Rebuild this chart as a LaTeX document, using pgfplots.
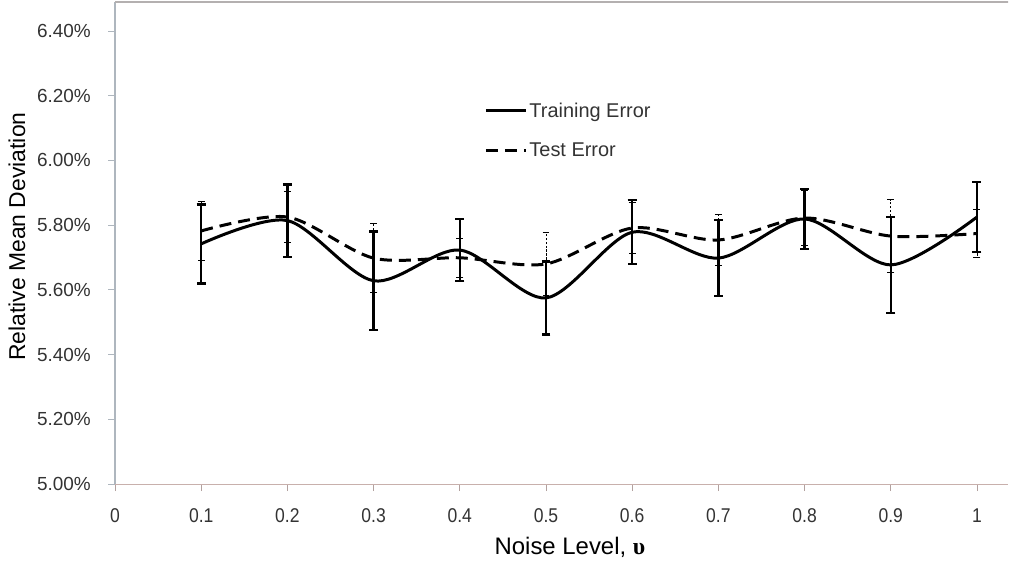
\documentclass[border=0pt]{standalone}
\usepackage{fontspec}
\setmainfont{Liberation Sans}
\newfontfamily\narrowfont[FakeStretch=0.88]{Liberation Sans}
\newfontfamily\serffont{Liberation Serif}
\usepackage{pgfplots}
\pgfplotsset{compat=1.18}
\definecolor{txt}{HTML}{333333}
\definecolor{xline}{HTML}{C8B0AC}
\definecolor{yline}{HTML}{AEB6BE}
\definecolor{topline}{HTML}{B4B0B0}
\begin{document}
\begin{tikzpicture}
\useasboundingbox (-115bp,-79bp) rectangle (896bp,484bp);
\begin{axis}[
  at={(0,0)}, anchor=south west,
  scale only axis, width=893bp, height=482.2bp,
  xmin=0, xmax=1.036, ymin=5, ymax=6.49,
  axis x line*=bottom, axis y line*=left,
  x axis line style={xline, line width=1pt, -},
  y axis line style={yline, line width=1.2pt, -},
  tick align=outside, major tick length=7bp,
  xtick={0,0.1,0.2,0.3,0.4,0.5,0.6,0.7,0.8,0.9,1},
  xticklabels={0,0.1,0.2,0.3,0.4,0.5,0.6,0.7,0.8,0.9,1},
  ytick={5,5.2,5.4,5.6,5.8,6,6.2,6.4},
  yticklabel={\pgfmathprintnumber[fixed,fixed zerofill,precision=2]{\tick}\%},
  /pgf/number format/assume math mode=true,
  x tick style={color=xline!70!gray, line width=0.8pt},
  y tick style={color=yline, line width=0.8pt},
  xticklabel style={font=\narrowfont\fontsize{20}{22}\selectfont, text=txt, anchor=center, yshift=-25bp},
  yticklabel style={font=\fontsize{19}{21}\selectfont, text=txt, anchor=east, inner sep=0pt, xshift=-17bp},
  every axis x label/.style={at={(rel axis cs:0.5095,0)}, yshift=-63bp, anchor=center, font=\fontsize{24}{26}\selectfont, text=black},
  every axis y label/.style={at={(rel axis cs:0,0.513)}, xshift=-98bp, rotate=90, anchor=center, font=\fontsize{23}{25}\selectfont, text=black},
  xlabel={Noise Level, {\serffont\bfseries υ}},
  ylabel={Relative Mean Deviation},
  legend style={draw=none, fill=none, at={(0.4133,0.795)}, anchor=north west, inner sep=0pt,
    font=\fontsize{20}{24}\selectfont, text=txt, row sep=20bp},
  legend cell align=left,
  legend image code/.code={\draw[#1] (0bp,0bp) -- (40bp,0bp);},
]
% Test error (dashed)
\addplot[black, line width=3pt, dash pattern=on 12bp off 7bp, smooth, tension=0.5, forget plot,
  error bars/.cd, y dir=both, y explicit,
  error bar style={line width=0.9pt, dash pattern=on 2.5pt off 1.5pt},
  error mark options={rotate=90, mark size=3.5, line width=0.9pt, black, solid}]
  table[x=x, y=y, y error=e] {
x y e
0.1 5.782 0.092
0.2 5.825 0.080
0.3 5.698 0.106
0.4 5.699 0.060
0.5 5.680 0.096
0.6 5.791 0.080
0.7 5.754 0.080
0.8 5.822 0.085
0.9 5.766 0.113
1.0 5.774 0.073
};
% Training error (solid)
\addplot[black, line width=3pt, smooth, tension=0.5, forget plot,
  error bars/.cd, y dir=both, y explicit,
  error bar style={line width=2.4pt, solid},
  error mark options={rotate=90, mark size=4.5, line width=2.4pt, black, solid}]
  table[x=x, y=y, y error=e] {
x y e
0.1 5.742 0.122
0.2 5.814 0.112
0.3 5.628 0.152
0.4 5.723 0.096
0.5 5.575 0.113
0.6 5.778 0.099
0.7 5.698 0.117
0.8 5.819 0.092
0.9 5.677 0.148
1.0 5.825 0.108
};
\addlegendimage{black, solid, line width=3.2pt}
\addlegendentry{Training Error}
\addlegendimage{black, line width=3.2pt, dash pattern=on 12bp off 7bp}
\addlegendentry{Test Error}
\draw[topline, line width=1.5pt] (rel axis cs:0,1) -- (rel axis cs:1.004,1);
\end{axis}
\end{tikzpicture}
\end{document}
